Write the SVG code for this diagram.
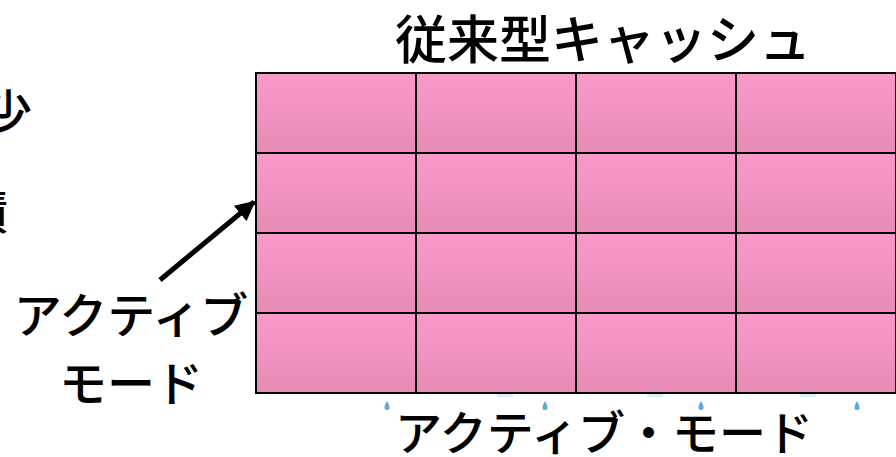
<svg xmlns="http://www.w3.org/2000/svg" width="896" height="457" viewBox="0 0 896 457">
<defs>
<linearGradient id="cellg" x1="0" y1="0" x2="0" y2="1">
<stop offset="0" stop-color="#fb9acb"/>
<stop offset="1" stop-color="#e78ab5"/>
</linearGradient>
<marker id="ah" viewBox="0 0 10 10" refX="9" refY="5" markerWidth="4" markerHeight="4" orient="auto" markerUnits="strokeWidth">
<path d="M0,0 L10,5 L0,10 Z" fill="#000"/>
</marker>
</defs>
<style>
.t{font-family:"Noto Sans CJK JP","Noto Sans CJK SC",sans-serif;font-weight:500;fill:#000}
.cell{fill:url(#cellg);stroke:#000;stroke-width:2}
.drop{fill:#5aa9e0}
.faint{fill:#d8ecfa}
</style>
<rect width="896" height="457" fill="#fff"/>
<g id="left-cut">
<text class="t" x="32" y="129" font-size="47" text-anchor="end">少</text>
<text class="t" x="8" y="229" font-size="47" text-anchor="end">積</text>
</g>
<g id="title">
<text class="t" x="603" y="59" font-size="52" text-anchor="middle">従来型キャッシュ</text>
</g>
<g id="cache-grid">
<rect class="cell" x="256" y="73" width="160" height="80"/>
<rect class="cell" x="416" y="73" width="160" height="80"/>
<rect class="cell" x="576" y="73" width="160" height="80"/>
<rect class="cell" x="736" y="73" width="160" height="80"/>
<rect class="cell" x="256" y="153" width="160" height="80"/>
<rect class="cell" x="416" y="153" width="160" height="80"/>
<rect class="cell" x="576" y="153" width="160" height="80"/>
<rect class="cell" x="736" y="153" width="160" height="80"/>
<rect class="cell" x="256" y="233" width="160" height="80"/>
<rect class="cell" x="416" y="233" width="160" height="80"/>
<rect class="cell" x="576" y="233" width="160" height="80"/>
<rect class="cell" x="736" y="233" width="160" height="80"/>
<rect class="cell" x="256" y="313" width="160" height="80"/>
<rect class="cell" x="416" y="313" width="160" height="80"/>
<rect class="cell" x="576" y="313" width="160" height="80"/>
<rect class="cell" x="736" y="313" width="160" height="80"/>
</g>
<g id="drops">
<rect class="faint" x="497" y="394" width="16" height="3"/>
<rect class="faint" x="647" y="394" width="16" height="3"/>
<rect class="faint" x="800" y="394" width="16" height="3"/>
<path class="drop" d="M387,401 Q389.5,405 389.5,407.5 A2.5,2.5 0 0 1 384.5,407.5 Q384.5,405 387,401 Z"/>
<path class="drop" d="M545,401 Q547.5,405 547.5,407.5 A2.5,2.5 0 0 1 542.5,407.5 Q542.5,405 545,401 Z"/>
<path class="drop" d="M701,401 Q703.5,405 703.5,407.5 A2.5,2.5 0 0 1 698.5,407.5 Q698.5,405 701,401 Z"/>
<path class="drop" d="M857,401 Q859.5,405 859.5,407.5 A2.5,2.5 0 0 1 854.5,407.5 Q854.5,405 857,401 Z"/>
</g>
<g id="connectors">
<line x1="160" y1="280" x2="254" y2="202" stroke="#000" stroke-width="5" marker-end="url(#ah)"/>
</g>
<g id="label-active-mode-left">
<text class="t" x="131" y="333" font-size="48" text-anchor="middle">アクティブ</text>
<text class="t" x="131" y="401" font-size="48" text-anchor="middle">モード</text>
</g>
<g id="label-active-mode-bottom">
<text class="t" x="604" y="450" font-size="47" text-anchor="middle">アクティブ・モード</text>
</g>
</svg>
